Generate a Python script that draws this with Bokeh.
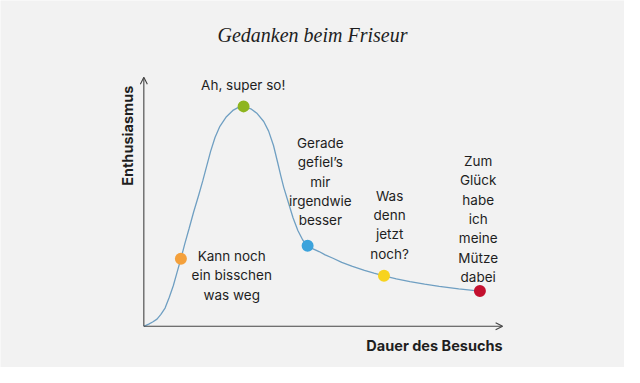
from bokeh.plotting import figure
from bokeh.models import Arrow, OpenHead, ColumnDataSource
from bokeh.core.properties import value
from bokeh.embed import file_html
from bokeh.resources import INLINE

# ---- data (time and enthusiasm in arbitrary units 0..100) ----
curve_t = [0.0, 1.36, 2.45, 3.67, 4.76, 5.92, 7.07, 8.21, 9.24, 10.33, 11.41,
           12.58, 13.86, 15.22, 16.44, 17.53, 18.61, 19.84, 21.20, 23.02, 24.81,
           26.36, 27.80, 29.81, 31.60, 33.42, 34.78, 36.14, 37.23, 38.18, 38.99,
           40.22, 41.58, 42.93, 44.29, 45.65, 47.01, 48.83, 50.54, 52.72, 55.16,
           58.15, 61.49, 64.13, 66.93, 70.38, 74.18, 78.26, 82.34, 87.77, 93.67]
curve_e = [0.0, 0.88, 1.73, 2.88, 4.81, 7.31, 11.54, 16.27, 21.54, 27.12, 33.08,
           39.04, 45.77, 52.31, 58.46, 64.42, 70.19, 75.77, 80.27, 84.12, 86.65,
           87.88, 88.27, 87.31, 85.38, 82.19, 78.35, 72.58, 66.15, 60.38, 55.77,
           50.0, 43.58, 38.46, 34.62, 32.31, 31.15, 30.0, 28.65, 27.31, 25.65,
           24.04, 22.42, 21.35, 20.27, 19.04, 17.96, 16.92, 16.04, 15.0, 14.12]

point_t = [10.33, 27.80, 45.65, 66.93, 93.67]
point_e = [27.12, 88.27, 32.31, 20.27, 14.12]
point_colors = ["#f4a03b", "#8eb51f", "#3ca3dc", "#f7d31e", "#c3102e"]

labels = ["Kann noch\nein bisschen\nwas weg",
          "Ah, super so!",
          "Gerade\ngefiel\u2019s\nmir\nirgendwie\nbesser",
          "Was\ndenn\njetzt\nnoch?",
          "Zum\nGl\u00fcck\nhabe\nich\nmeine\nM\u00fctze\ndabei"]
label_t = [24.5, 27.7, 49.2, 68.5, 93.2]
label_e = [20.4, 96.9, 58.1, 40.8, 43.1]

title = "Gedanken beim Friseur"
x_label = "Dauer des Besuchs"
y_label = "Enthusiasmus"
axis_max_t = 100
axis_max_e = 100

BG = "#f2f2f2"
FONT = "Inter"
INK = "#1e1e1e"

p = figure(width=624, height=367, output_backend="svg", toolbar_location=None,
           x_range=(-39.95, 133.97), y_range=(-16.54, 130.77),
           min_border=0, background_fill_color=BG, border_fill_color=BG)
p.axis.visible = False
p.grid.visible = False
p.outline_line_color = None

# axes with open arrow heads
for xe, ye in [(0, axis_max_e), (axis_max_t, 0)]:
    p.add_layout(Arrow(end=OpenHead(size=7, line_color="#444444", line_width=1.1),
                       x_start=0, y_start=0, x_end=xe, y_end=ye,
                       line_color="#444444", line_width=1.1))

# curve
p.line(curve_t, curve_e, line_color="#6f9fc2", line_width=1.3)

# milestone dots
p.scatter(point_t, point_e, size=12, fill_color=point_colors, line_color=None)

# annotations
src = ColumnDataSource(dict(x=label_t, y=label_e, text=labels))
p.text(x="x", y="y", text="text", source=src, text_align="center",
       text_baseline="middle", text_font=value(FONT), text_font_size="13.5px",
       text_color=INK, text_line_height=1.21)

# axis labels
p.text(x=[axis_max_t], y=[-7.7], text=[x_label], text_align="right",
       text_baseline="middle", text_font=value(FONT), text_font_size="14.5px",
       text_font_style="bold", text_color=INK)
p.text(x=[-4.6], y=[76.5], text=[y_label], angle=1.5708, text_align="center",
       text_baseline="middle", text_font=value(FONT), text_font_size="14.5px",
       text_font_style="bold", text_color=INK)

# title
p.text(x=[47.0], y=[116.9], text=[title], text_align="center",
       text_baseline="middle", text_font=value("Liberation Serif"),
       text_font_size="20px", text_font_style="italic", text_color=INK)

open("out.html", "w").write(file_html(p, INLINE))
